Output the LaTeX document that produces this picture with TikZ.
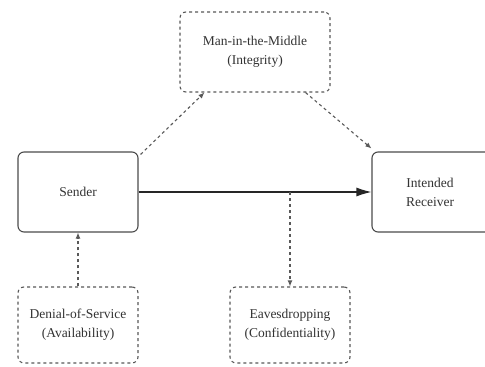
\documentclass[tikz,border=0pt]{standalone}
\usepackage{fontspec}
\setmainfont{Liberation Serif}
\usetikzlibrary{arrows.meta}
\begin{document}
\begin{tikzpicture}[x=1pt,y=-1pt,
  every node/.style={font=\fontsize{13.5}{19}\selectfont, text=black!80, align=center},
  solidbox/.style={draw=black!70, line width=1.1pt, rounded corners=6pt, minimum width=120pt, minimum height=80pt, inner sep=0pt},
  attackbox/.style={draw=black!65, line width=1.1pt, dash pattern=on 3pt off 3pt, rounded corners=6pt, minimum width=120pt, minimum height=76pt, inner sep=0pt},
  flow/.style={draw=black!85, line width=1.1pt, -{Latex[length=15pt,width=9pt]}},
  attack/.style={draw=black!65, line width=1.1pt, dash pattern=on 3pt off 3pt, -{Latex[length=6pt,width=5pt]}}
]
\clip (0,0) rectangle (485,367);
\fill[white] (0,0) rectangle (485,367);
\node[attackbox, minimum width=150pt, minimum height=80pt] (mitm) at (255,52) {Man-in-the-Middle\\(Integrity)};
\node[solidbox] (sender) at (78,192) {Sender};
\node[solidbox, minimum width=124pt] (recv) at (434,192) {};
\node at (430,192) (recvtext) {Intended\\Receiver};
\node[attackbox] (dos) at (78,325) {Denial-of-Service\\(Availability)};
\node[attackbox] (eaves) at (290,325) {Eavesdropping\\(Confidentiality)};
\draw[flow] (sender.east) -- (recv.west);
\coordinate (tap) at (eaves.north |- sender.east);
\draw[attack] (tap) -- (eaves.north);
\draw[attack] (dos.north) -- (sender.south);
\draw[attack] (sender.north east) ++(2,3) -- ([xshift=25pt]mitm.south west);
\draw[attack] ([xshift=-25pt]mitm.south east) -- ([yshift=3pt]recv.north west);
\end{tikzpicture}
\end{document}
